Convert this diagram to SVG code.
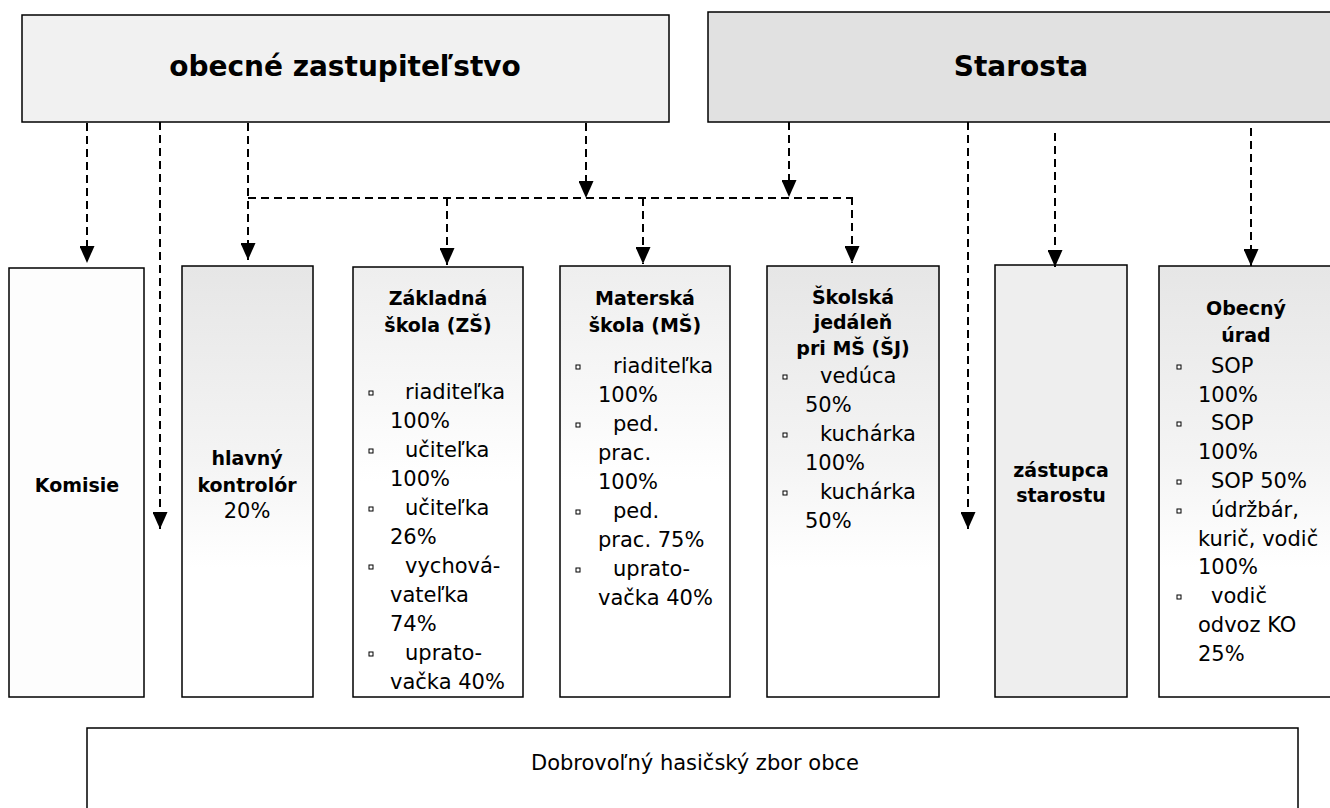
<svg xmlns="http://www.w3.org/2000/svg" width="1330" height="808" viewBox="0 0 1330 808">
<defs>
<linearGradient id="fade" x1="0" y1="0" x2="0" y2="1">
<stop offset="0" stop-color="#e6e6e6"/>
<stop offset="0.45" stop-color="#f4f4f4"/>
<stop offset="0.7" stop-color="#ffffff"/>
</linearGradient>
<linearGradient id="fadeLight" x1="0" y1="0" x2="0" y2="1">
<stop offset="0" stop-color="#eeeeee"/>
<stop offset="0.3" stop-color="#f8f8f8"/>
<stop offset="0.5" stop-color="#ffffff"/>
</linearGradient>
<marker id="arr" viewBox="0 0 17 15" refX="17" refY="7.5" markerWidth="17" markerHeight="15" markerUnits="userSpaceOnUse" orient="auto">
<path d="M0,0 L17,7.5 L0,15 z" fill="#000"/>
</marker>
</defs>
<style>
.box{stroke:#000;stroke-width:1.5}
.ttl{font-family:"DejaVu Sans",Verdana,sans-serif;font-weight:bold;font-size:19px;fill:#000;text-anchor:middle}
.big{font-family:"DejaVu Sans",Verdana,sans-serif;font-weight:bold;font-size:28px;fill:#000;text-anchor:middle}
.it{font-family:"DejaVu Sans",Verdana,sans-serif;font-size:21px;fill:#000}
.mid{text-anchor:middle}
.bul{fill:#fff;stroke:#000;stroke-width:1}
.con{fill:none;stroke:#000;stroke-width:2;stroke-dasharray:8 5}
</style>

<g id="zastupitelstvo">
<rect class="box" x="22" y="15" width="647" height="107" fill="#f1f1f1"/>
<text class="big" x="345" y="76">obecné zastupiteľstvo</text>
</g>

<g id="starosta">
<rect class="box" x="708" y="12" width="640" height="110" fill="#e1e1e1"/>
<text class="big" x="1021" y="76">Starosta</text>
</g>

<g id="komisie">
<rect class="box" x="9" y="268" width="135" height="429" fill="#fdfdfd"/>
<text class="ttl" x="77" y="492">Komisie</text>
</g>

<g id="kontrolor">
<rect class="box" x="182" y="266" width="131" height="431" fill="url(#fade)"/>
<text class="ttl" x="247" y="465">hlavný</text>
<text class="ttl" x="247" y="492">kontrolór</text>
<text class="it mid" x="247" y="518">20%</text>
</g>

<g id="zs">
<rect class="box" x="353" y="267" width="170" height="430" fill="url(#fadeLight)"/>
<text class="ttl" x="438" y="305">Základná</text>
<text class="ttl" x="438" y="332">škola (ZŠ)</text>
<rect class="bul" x="369" y="391" width="4" height="4"/>
<text class="it" x="405" y="399">riaditeľka</text>
<text class="it" x="390" y="428">100%</text>
<rect class="bul" x="369" y="449" width="4" height="4"/>
<text class="it" x="405" y="457">učiteľka</text>
<text class="it" x="390" y="486">100%</text>
<rect class="bul" x="369" y="507" width="4" height="4"/>
<text class="it" x="405" y="515">učiteľka</text>
<text class="it" x="390" y="544">26%</text>
<rect class="bul" x="369" y="565" width="4" height="4"/>
<text class="it" x="405" y="573">vychová-</text>
<text class="it" x="390" y="602">vateľka</text>
<text class="it" x="390" y="631">74%</text>
<rect class="bul" x="369" y="652" width="4" height="4"/>
<text class="it" x="405" y="660">uprato-</text>
<text class="it" x="390" y="689">vačka 40%</text>
</g>

<g id="ms">
<rect class="box" x="560" y="266" width="170" height="431" fill="url(#fadeLight)"/>
<text class="ttl" x="645" y="305">Materská</text>
<text class="ttl" x="645" y="332">škola (MŠ)</text>
<rect class="bul" x="576" y="365" width="4" height="4"/>
<text class="it" x="613" y="373">riaditeľka</text>
<text class="it" x="598" y="402">100%</text>
<rect class="bul" x="576" y="423" width="4" height="4"/>
<text class="it" x="613" y="431">ped.</text>
<text class="it" x="598" y="460">prac.</text>
<text class="it" x="598" y="489">100%</text>
<rect class="bul" x="576" y="510" width="4" height="4"/>
<text class="it" x="613" y="518">ped.</text>
<text class="it" x="598" y="547">prac. 75%</text>
<rect class="bul" x="576" y="568" width="4" height="4"/>
<text class="it" x="613" y="576">uprato-</text>
<text class="it" x="598" y="605">vačka 40%</text>
</g>

<g id="sj">
<rect class="box" x="767" y="266" width="172" height="431" fill="url(#fade)"/>
<text class="ttl" x="853" y="304">Školská</text>
<text class="ttl" x="853" y="329">jedáleň</text>
<text class="ttl" x="853" y="355">pri MŠ (ŠJ)</text>
<rect class="bul" x="783" y="375" width="4" height="4"/>
<text class="it" x="820" y="383">vedúca</text>
<text class="it" x="805" y="412">50%</text>
<rect class="bul" x="783" y="433" width="4" height="4"/>
<text class="it" x="820" y="441">kuchárka</text>
<text class="it" x="805" y="470">100%</text>
<rect class="bul" x="783" y="491" width="4" height="4"/>
<text class="it" x="820" y="499">kuchárka</text>
<text class="it" x="805" y="528">50%</text>
</g>

<g id="zastupca">
<rect class="box" x="995" y="265" width="132" height="432" fill="#eeeeee"/>
<text class="ttl" x="1061" y="477">zástupca</text>
<text class="ttl" x="1061" y="502">starostu</text>
</g>

<g id="urad">
<rect class="box" x="1159" y="266" width="180" height="431" fill="url(#fade)"/>
<text class="ttl" x="1246" y="315">Obecný</text>
<text class="ttl" x="1246" y="342">úrad</text>
<rect class="bul" x="1177" y="365" width="4" height="4"/>
<text class="it" x="1211" y="373">SOP</text>
<text class="it" x="1198" y="402">100%</text>
<rect class="bul" x="1177" y="422" width="4" height="4"/>
<text class="it" x="1211" y="430">SOP</text>
<text class="it" x="1198" y="459">100%</text>
<rect class="bul" x="1177" y="480" width="4" height="4"/>
<text class="it" x="1211" y="488">SOP 50%</text>
<rect class="bul" x="1177" y="509" width="4" height="4"/>
<text class="it" x="1211" y="517">údržbár,</text>
<text class="it" x="1198" y="546">kurič, vodič</text>
<text class="it" x="1198" y="574">100%</text>
<rect class="bul" x="1177" y="595" width="4" height="4"/>
<text class="it" x="1211" y="603">vodič</text>
<text class="it" x="1198" y="632">odvoz KO</text>
<text class="it" x="1198" y="661">25%</text>
</g>

<g id="hasici">
<rect class="box" x="87" y="728" width="1211" height="100" fill="#ffffff"/>
<text class="it mid" x="695" y="770">Dobrovoľný hasičský zbor obce</text>
</g>

<g id="connectors">
<path class="con" d="M87,123 V263" marker-end="url(#arr)"/>
<path class="con" d="M160,122 V529" marker-end="url(#arr)"/>
<path class="con" d="M248,123 V260" marker-end="url(#arr)"/>
<path class="con" d="M248,198 H852"/>
<path class="con" d="M447,198 V265" marker-end="url(#arr)"/>
<path class="con" d="M586,123 V198" marker-end="url(#arr)"/>
<path class="con" d="M643,198 V264" marker-end="url(#arr)"/>
<path class="con" d="M789,122 V197" marker-end="url(#arr)"/>
<path class="con" d="M852,197 V263" marker-end="url(#arr)"/>
<path class="con" d="M968,122 V529" marker-end="url(#arr)"/>
<path class="con" d="M1055,133 V267" marker-end="url(#arr)"/>
<path class="con" d="M1251,128 V266" marker-end="url(#arr)"/>
</g>
</svg>
